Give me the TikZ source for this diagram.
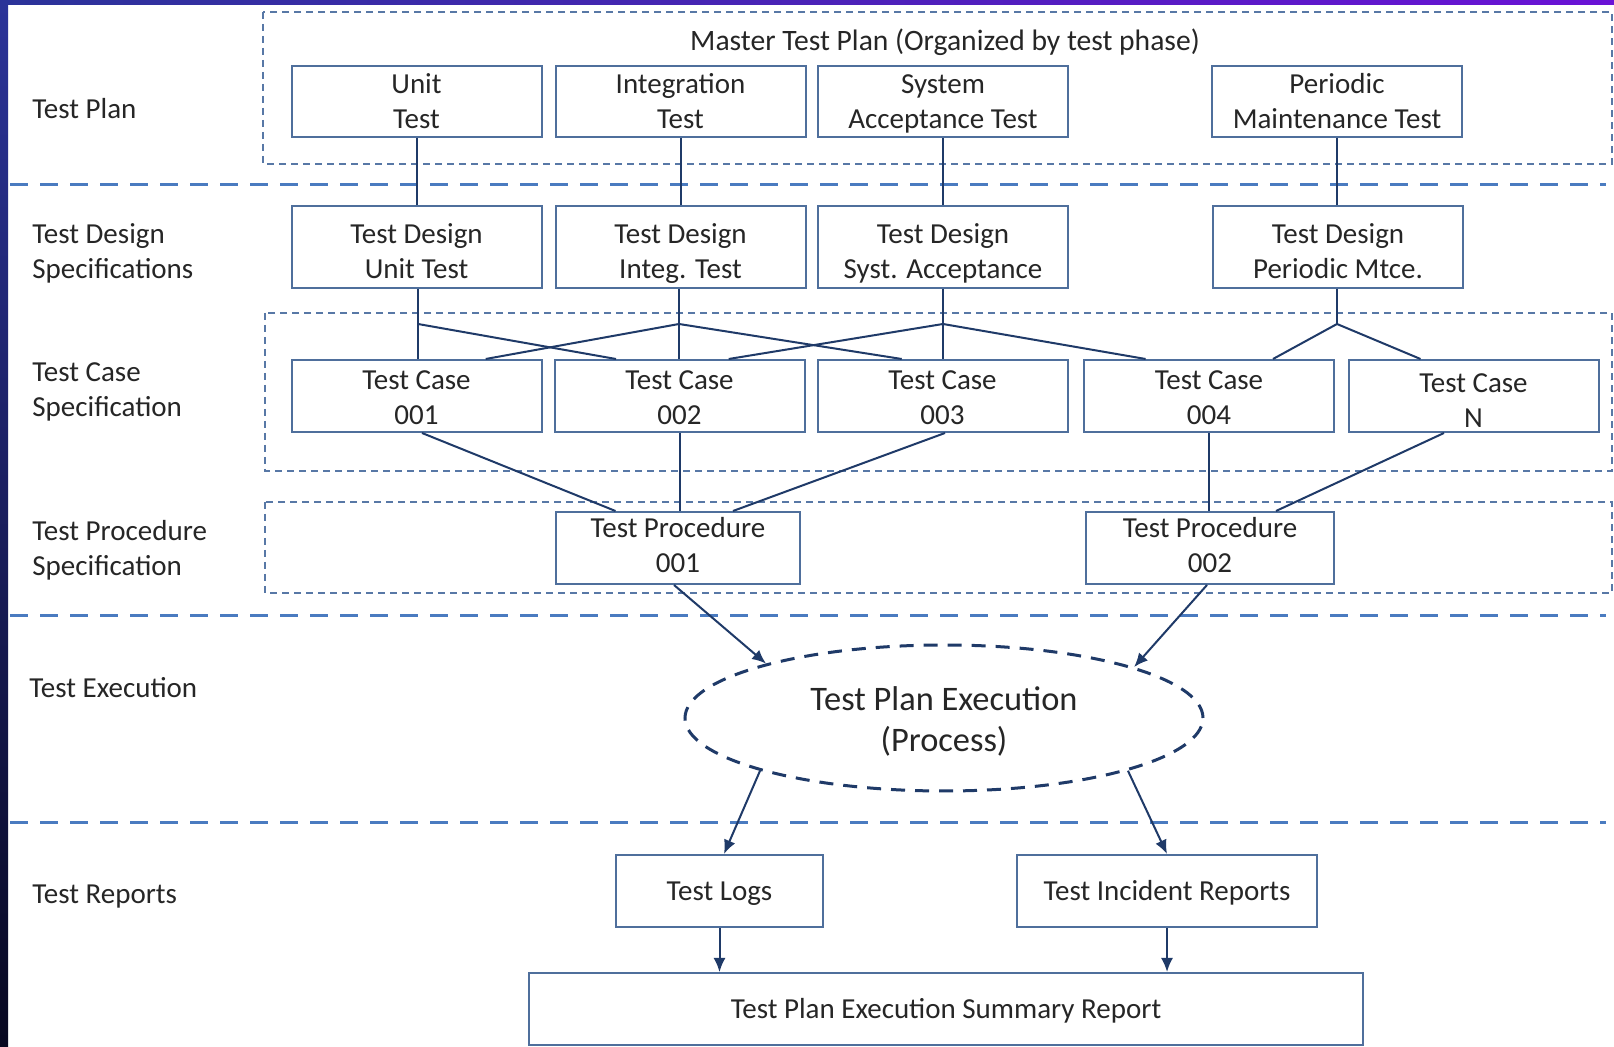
\documentclass[tikz,border=0pt]{standalone}
\usepackage{fontspec}
\setmainfont{Carlito}
\usetikzlibrary{arrows.meta,shapes.geometric}
\definecolor{boxc}{HTML}{4F6F9C}
\definecolor{linec}{HTML}{1F3A68}
\definecolor{sepc}{HTML}{4A7BC0}
\definecolor{dboxc}{HTML}{5878A6}
\definecolor{txtc}{HTML}{262626}
\definecolor{frameblue}{HTML}{2B3399}
\definecolor{framedark}{HTML}{080820}
\definecolor{framepurple}{HTML}{6A12D6}
\newcommand{\toprule}[1]{\rule{0pt}{#1}}
\newcommand{\botrule}[1]{\rule[-#1]{0pt}{#1}}
\begin{document}
\begin{tikzpicture}[x=0.5pt,y=-0.5pt,
  font=\fontsize{14.5}{17.5}\selectfont, text=txtc,
  box/.style={draw=boxc, line width=1pt, rectangle, minimum width=125pt, align=center, inner sep=0pt},
  single/.style={execute at begin node={\rule{0pt}{#1}}, execute at end node=\strut},
  rowlbl/.style={anchor=west, align=left, inner sep=0pt},
  conn/.style={draw=linec, line width=1pt},
  arr/.style={draw=linec, line width=1pt, -{Latex[length=7pt,width=6pt]}},
  sepline/.style={draw=sepc, line width=1.5pt, dash pattern=on 9pt off 6pt},
  dregion/.style={draw=dboxc, line width=1.2pt, dash pattern=on 3.5pt off 2.5pt}]
\useasboundingbox (0,0) rectangle (1614,1047);
\fill[white] (0,0) rectangle (1614,1047);
\shade[top color=frameblue, bottom color=framedark] (0,0) rectangle (8,1047);
\shade[left color=frameblue, right color=framepurple] (0,0) rectangle (1614,5);

% separators
\draw[sepline] (10,185) -- (1606,185);
\draw[sepline] (10,616) -- (1606,616);
\draw[sepline] (10,823) -- (1606,823);

% dashed regions
\draw[dregion] (263,12) rectangle (1612,164);
\draw[dregion] (265,313) rectangle (1612,471);
\draw[dregion] (265,502) rectangle (1612,593);

% row labels
\node[rowlbl] (lplan) at (32,109) {Test Plan};
\node[rowlbl] (ldesign) at (32,253) {Test Design\\Specifications};
\node[rowlbl] (lcase) at (32,392) {Test Case\\Specification};
\node[rowlbl] (lproc) at (32,550) {Test Procedure\\Specification};
\node[rowlbl] (lexec) at (29,688) {Test Execution};
\node[rowlbl] (lrep) at (32,897) {Test Reports};

% title
\node[font=\fontsize{14.8}{17.5}\selectfont] (title) at (945,42) {Master Test Plan (Organized by test phase)};

% test plan row
\tikzset{prow/.style={box, minimum height=35.5pt}}
\node[prow] (pu) at (416.5,101.5) {\toprule{12.85pt}Unit\\Test\botrule{3pt}};
\node[prow] (pi) at (680.5,101.5) {\toprule{12.85pt}Integration\\Test\botrule{3pt}};
\node[prow] (ps) at (943,101.5) {\toprule{12.85pt}System\\Acceptance Test\botrule{3pt}};
\node[prow] (pp) at (1337,101.5) {\toprule{12.85pt}Periodic\\Maintenance Test\botrule{3pt}};

% design row
\tikzset{drow/.style={box, minimum height=41pt}}
\node[drow] (du) at (416.5,247) {\toprule{17.45pt}Test Design\\Unit Test\botrule{3pt}};
\node[drow] (di) at (680.5,247) {\toprule{17.45pt}Test Design\\Integ. Test\botrule{3pt}};
\node[drow] (ds) at (943,247) {\toprule{17.45pt}Test Design\\Syst. Acceptance\botrule{3pt}};
\node[drow] (dp) at (1338,247) {\toprule{17.45pt}Test Design\\Periodic Mtce.\botrule{3pt}};

% test case row
\tikzset{crow/.style={box, minimum height=36pt}}
\node[crow] (tc1) at (416.5,396) {\toprule{14.35pt}Test Case\\001\botrule{3pt}};
\node[crow] (tc2) at (679.5,396) {\toprule{14.35pt}Test Case\\002\botrule{3pt}};
\node[crow] (tc3) at (942.5,396) {\toprule{14.35pt}Test Case\\003\botrule{3pt}};
\node[crow] (tc4) at (1209,396) {\toprule{14.35pt}Test Case\\004\botrule{3pt}};
\node[crow] (tcn) at (1473.5,396) {\toprule{14.45pt}Test Case\\N};

% test procedure row
\node[box, minimum height=36pt, minimum width=122pt] (tp1) at (678,548) {\toprule{9.25pt}Test Procedure\\001\botrule{3pt}};
\node[box, minimum height=36pt, minimum width=124pt] (tp2) at (1210,548) {\toprule{9.25pt}Test Procedure\\002\botrule{3pt}};

% execution
\node[ellipse, draw=linec, line width=1.5pt, dash pattern=on 7pt off 5pt, minimum width=259pt, minimum height=73pt, inner sep=0pt, align=center,
      font=\fontsize{17.2}{20.5}\selectfont] (ex) at (944,718) {\begin{tabular}{@{}c@{}}\toprule{19.5pt}Test Plan Execution\\(Process)\strut\end{tabular}};

% reports
\node[box, single=15.25pt, minimum height=36pt, minimum width=103.5pt] (tl) at (719.5,891) {Test Logs};
\node[box, single=15.25pt, minimum height=36pt, minimum width=150pt] (ti) at (1167,891) {Test Incident Reports};
\node[box, single=15.25pt, minimum height=36pt, minimum width=417pt] (sum) at (946,1009) {Test Plan Execution Summary Report};

% plan -> design
\draw[conn] (pu) -- (pu.south |- du.north);
\draw[conn] (pi) -- (pi.south |- di.north);
\draw[conn] (ps) -- (ps.south |- ds.north);
\draw[conn] (pp) -- (pp.south |- dp.north);

% junctions
\coordinate (ju) at (418,324);
\coordinate (ji) at (679,324);
\coordinate (js) at (943,324);
\coordinate (jp) at (1337,324);
\draw[conn] (du.south -| ju) -- (ju);
\draw[conn] (di.south -| ji) -- (ji);
\draw[conn] (ds.south -| js) -- (js);
\draw[conn] (dp.south -| jp) -- (jp);

\draw[conn] (ju) -- (ju |- tc1.north);
\draw[conn] (ju) -- ([xshift=-31.75pt]tc2.north);
\draw[conn] (ji) -- (ji |- tc2.north);
\draw[conn] (ji) -- ([xshift=34.6pt]tc1.north);
\draw[conn] (ji) -- ([xshift=-20.4pt]tc3.north);
\draw[conn] (js) -- (js |- tc3.north);
\draw[conn] (js) -- ([xshift=24.6pt]tc2.north);
\draw[conn] (js) -- ([xshift=-31.7pt]tc4.north);
\draw[conn] (jp) -- ([xshift=32pt]tc4.north);
\draw[conn] (jp) -- ([xshift=-26.5pt]tcn.north);

% case -> procedure
\draw[conn] ([xshift=2.75pt]tc1.south) -- ([xshift=-31.25pt]tp1.north);
\draw[conn] (tp1.north -| tc2.south) -- (tc2.south);
\draw[conn] ([xshift=1.25pt]tc3.south) -- ([xshift=27.5pt]tp1.north);
\draw[conn] (tc4.south) -- (tc4.south |- tp2.north);
\draw[conn] ([xshift=-14.75pt]tcn.south) -- ([xshift=33pt]tp2.north);

% procedure -> execution
\draw[arr] ([xshift=-2pt]tp1.south) -- (ex.163.5);
\draw[arr] ([xshift=-1.5pt]tp2.south) -- (ex.15.7);

% execution -> reports
\draw[arr] (ex.196.3) -- ([xshift=2.25pt]tl.north);
\draw[arr] (ex.344) -- (ti.north);
\draw[arr] (tl.south) -- (tl.south |- sum.north);
\draw[arr] (ti.south) -- (ti.south |- sum.north);
\end{tikzpicture}
\end{document}
